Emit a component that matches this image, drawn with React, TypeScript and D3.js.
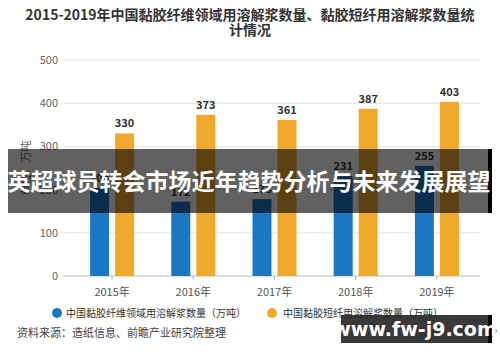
import * as d3 from "d3";

const years = ["2015年", "2016年", "2017年", "2018年", "2019年"];
const fiberValues = [204, 172, 178, 231, 255];
const staple = [330, 373, 361, 387, 403];
const yTicks = [0, 100, 200, 300, 400, 500];
const seriesNames = [
  "中国黏胶纤维领域用溶解浆数量（万吨）",
  "中国黏胶短纤用溶解浆数量（万吨）",
];

const BLUE = "#1a78c2";
const ORANGE = "#efaa2b";
const CJK = "'Noto Sans CJK SC', 'Noto Sans', sans-serif";

export default function App() {
  const width = 500;
  const height = 362;

  const x = d3.scaleBand<string>().domain(years).range([71.5, 477.5]);
  const y = d3.scaleLinear().domain([0, 500]).range([276, 60]);
  const barW = 19;
  const gap = 3;

  return (
    <svg
      width={width}
      height={height}
      style={{ position: "absolute", left: 0, top: 0, background: "#fff" }}
      fontFamily={CJK}
    >
      {/* title */}
      <text x={250} y={20} textAnchor="middle" fontSize={14} fontWeight="bold" fill="#333">
        2015-2019年中国黏胶纤维领域用溶解浆数量、黏胶短纤用溶解浆数量统
      </text>
      <text x={250} y={35} textAnchor="middle" fontSize={14} fontWeight="bold" fill="#333">
        计情况
      </text>

      {/* grid + y labels */}
      {yTicks.map((t) => (
        <g key={t}>
          <line
            x1={63}
            x2={480}
            y1={y(t)}
            y2={y(t)}
            stroke={t === 0 ? "#bbb" : "#e3e3e3"}
            strokeWidth={1}
          />
          <text x={58} y={y(t) + 4} textAnchor="end" fontSize={11} fill="#666">
            {t}
          </text>
        </g>
      ))}
      <text
        transform={`translate(30,${y(250)}) rotate(-90)`}
        textAnchor="middle"
        fontSize={11}
        fill="#666"
      >
        单位：万吨
      </text>

      {/* x axis */}
      {years.map((yr) => {
        const cx = (x(yr) ?? 0) + x.bandwidth() / 2;
        return (
          <g key={yr}>
            <line x1={cx} x2={cx} y1={y(0)} y2={y(0) + 4} stroke="#bbb" />
            <text x={cx} y={y(0) + 20} textAnchor="middle" fontSize={11} fill="#555">
              {yr}
            </text>
          </g>
        );
      })}

      {/* bars */}
      {years.map((yr, i) => {
        const cx = (x(yr) ?? 0) + x.bandwidth() / 2;
        return (
          <g key={"b" + yr}>
            <rect
              x={cx - gap - barW}
              y={y(fiberValues[i])}
              width={barW}
              height={y(0) - y(fiberValues[i])}
              fill={BLUE}
            />
            <text
              x={cx - gap - barW / 2}
              y={y(fiberValues[i]) - 6}
              textAnchor="middle"
              fontSize={11}
              fontWeight="bold"
              fill="#333"
            >
              {fiberValues[i]}
            </text>
            <rect
              x={cx + gap}
              y={y(staple[i])}
              width={barW}
              height={y(0) - y(staple[i])}
              fill={ORANGE}
            />
            <text
              x={cx + gap + barW / 2}
              y={y(staple[i]) - 6}
              textAnchor="middle"
              fontSize={11}
              fontWeight="bold"
              fill="#333"
            >
              {staple[i]}
            </text>
          </g>
        );
      })}

      {/* legend */}
      <circle cx={57} cy={313} r={5} fill={BLUE} />
      <text x={66} y={317} fontSize={10} fill="#333">
        {seriesNames[0]}
      </text>
      <circle cx={272} cy={313} r={5} fill={ORANGE} />
      <text x={283} y={317} fontSize={10} fill="#333">
        {seriesNames[1]}
      </text>

      {/* source */}
      <text x={17} y={337} fontSize={11} fill="#444">
        资料来源：造纸信息、前瞻产业研究院整理
      </text>
      <text x={497} y={337} textAnchor="end" fontSize={10} fill="#777">
        @前瞻经济学人APP
      </text>

      {/* overlay band */}
      <rect x={8} y={149} width={482} height={64} fill="rgba(0,0,0,0.62)" />
      <rect x={488} y={149} width={4} height={64} fill="#000" />
      <text
        x={249}
        y={190}
        textAnchor="middle"
        fontSize={23}
        fontWeight="bold"
        fill="#fff"
      >
        英超球员转会市场近年趋势分析与未来发展展望
      </text>

      {/* watermark box */}
      <rect x={341} y={315} width={149} height={28} fill="rgba(40,40,40,0.92)" />
      <rect x={488} y={315} width={4} height={28} fill="#000" />
      <text
        x={415}
        y={336}
        textAnchor="middle"
        fontSize={19}
        fontWeight="bold"
        fill="#fff"
        fontFamily="'DejaVu Sans', sans-serif"
      >
        www.fw-j9.com
      </text>
    </svg>
  );
}
